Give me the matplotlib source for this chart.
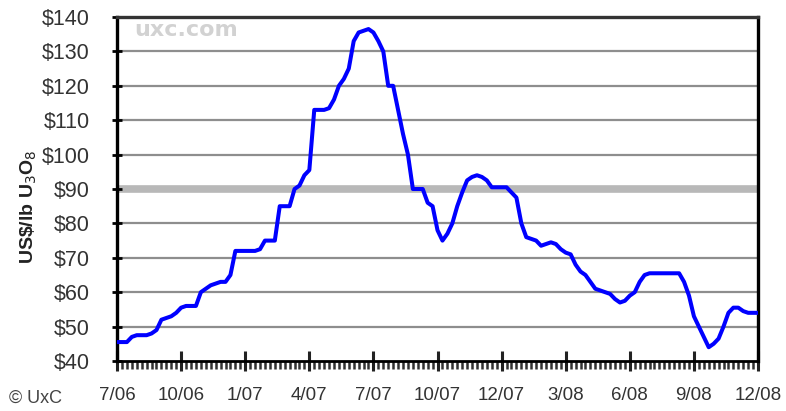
import numpy as np
import matplotlib
matplotlib.use("Agg")
import matplotlib.pyplot as plt

# weekly spot price, Jul 2006 - Dec 2008 (US$/lb U3O8)
prices = [45.5, 45.5, 45.5, 47, 47.5, 47.5, 47.5, 48, 49, 52,
          52.5, 53, 54, 55.5, 56, 56, 56, 60, 61, 62,
          62.5, 63, 63, 65, 72, 72, 72, 72, 72, 72.5,
          75, 75, 75, 85, 85, 85, 90, 91, 94, 95.5,
          113, 113, 113, 113.5, 116, 120, 122, 125, 133, 135.5,
          136, 136.5, 135.5, 133, 130, 120, 120, 113, 106, 100,
          90, 90, 90, 86, 85, 78, 75, 77, 80, 85,
          89, 92.5, 93.5, 94, 93.5, 92.5, 90.5, 90.5, 90.5, 90.5,
          89, 87.5, 80, 76, 75.5, 75, 73.5, 74, 74.5, 74,
          72.5, 71.5, 71, 68, 66, 65, 63, 61, 60.5, 60,
          59.5, 58, 57, 57.5, 59, 60, 63, 65, 65.5, 65.5,
          65.5, 65.5, 65.5, 65.5, 65.5, 63, 59, 53, 50, 47,
          44, 45, 46.5, 50, 54, 55.5, 55.5, 54.5, 54, 54, 54]
weeks = np.arange(len(prices))

tick_labels = ["7/06", "10/06", "1/07", "4/07", "7/07", "10/07",
               "12/07", "3/08", "6/08", "9/08", "12/08"]
tick_weeks = [0, 13, 26, 39, 52, 65, 78, 91, 104, 117, 130]
y_values = [40, 50, 60, 70, 80, 90, 100, 110, 120, 130, 140]

plt.rcParams['font.family'] = ['Liberation Sans', 'DejaVu Sans']

fig = plt.figure(figsize=(7.86, 4.11), dpi=100)
ax = fig.add_axes([0.1489, 0.1217, 0.8155, 0.8369])

# grid lines, the $90 one drawn wider and lighter
for v in y_values[1:-1]:
    if v == 90:
        ax.axhline(v, color="#b8b8b8", lw=5.5, zorder=1)
    else:
        ax.axhline(v, color="#8e8e8e", lw=1.6, zorder=1)

ax.plot(weeks, prices, color="#0000ff", lw=2.9, zorder=3)

ax.set_xlim(0, 130)
ax.set_ylim(40, 140)
ax.set_yticks(y_values)
ax.set_yticklabels(["$%d" % v for v in y_values], fontsize=15.5, color="#333333")
ax.set_xticks(tick_weeks)
ax.set_xticklabels(tick_labels, fontsize=13.5, color="#333333")
ax.set_xticks(weeks, minor=True)

ax.tick_params(axis="y", direction="inout", length=7, width=2, pad=16)
ax.tick_params(axis="x", which="major", direction="inout", length=14, width=2.2, pad=12, color="#222222")
ax.tick_params(axis="x", which="minor", direction="out", length=6, width=1.8, color="#333333")

ax.spines["left"].set_linewidth(2.4)
ax.spines["left"].set_color("black")
ax.spines["bottom"].set_linewidth(2)
ax.spines["bottom"].set_color("black")
ax.spines["right"].set_linewidth(2.4)
ax.spines["right"].set_color("black")
ax.spines["top"].set_linewidth(2.4)
ax.spines["top"].set_color("#333333")

ax.set_ylabel(r"US\$/lb U$_3$O$_8$", fontsize=14, fontweight="bold", color="#222222")
ax.yaxis.set_label_coords(-0.122, 0.45)

ax.text(0.027, 0.99, "uxc.com", transform=ax.transAxes, fontsize=16, fontweight="bold",
        family="DejaVu Sans", color="#d2d2d2", va="top", ha="left")
fig.text(0.012, 0.032, "\u00a9 UxC", fontsize=13, color="#444444", ha="left", va="center")

fig.savefig("out.png", dpi=100)
